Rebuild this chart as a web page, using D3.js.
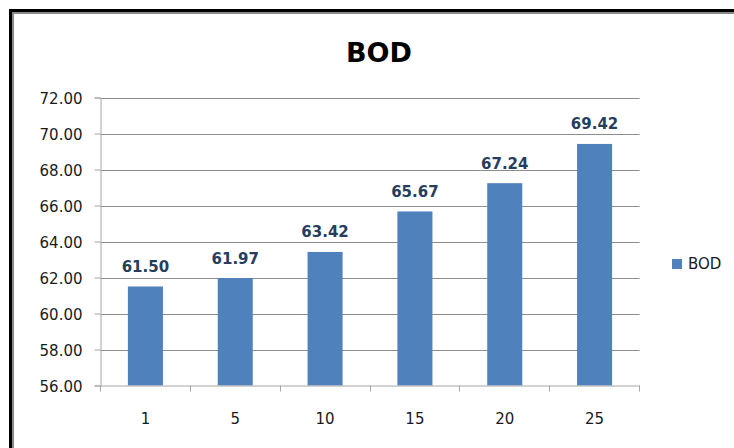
<!DOCTYPE html>
<html>
<head>
<meta charset="utf-8">
<script src="https://cdn.jsdelivr.net/npm/d3@7/dist/d3.min.js"></script>
<style>
  html, body { margin: 0; padding: 0; background: #fff; }
  svg { display: block; font-family: "DejaVu Sans", sans-serif; }
</style>
</head>
<body>
<svg id="chart" width="734" height="448"></svg>
<script>
const title = "BOD";
const seriesName = "BOD";
const categories = ["1", "5", "10", "15", "20", "25"];
const values = [61.50, 61.97, 63.42, 65.67, 67.24, 69.42];
const yTicks = [56, 58, 60, 62, 64, 66, 68, 70, 72];

const svg = d3.select("#chart");
const W = 734, H = 448;

svg.append("rect").attr("width", W).attr("height", H).attr("fill", "#fff");

// frame (black outer + gray inner)
svg.append("rect").attr("x", 10.5).attr("y", 10.5).attr("width", W + 20).attr("height", H + 20)
  .attr("fill", "none").attr("stroke", "#000").attr("stroke-width", 3);
svg.append("rect").attr("x", 13).attr("y", 13).attr("width", W + 20).attr("height", H + 20)
  .attr("fill", "none").attr("stroke", "#8a8a8a").attr("stroke-width", 2);

const x = d3.scaleBand().domain(categories).range([100.5, 639.5])
  .paddingInner(0.61).paddingOuter(0.305);
const y = d3.scaleLinear().domain([56, 72]).range([385.5, 97.5]);

// gridlines
svg.append("g").selectAll("line").data(yTicks.filter(t => t > 56)).join("line")
  .attr("x1", 100.5).attr("x2", 639.5)
  .attr("y1", d => Math.round(y(d)) + 0.5).attr("y2", d => Math.round(y(d)) + 0.5)
  .attr("stroke", "#8c8c8c").attr("stroke-width", 1);

// bars
svg.append("g").selectAll("rect").data(values).join("rect")
  .attr("x", (d, i) => x(categories[i]))
  .attr("width", x.bandwidth())
  .attr("y", d => y(d))
  .attr("height", d => y(56) - y(d))
  .attr("fill", "#4f81bd");

// y axis
const yAxis = svg.append("g").attr("transform", "translate(100.5,0)")
  .call(d3.axisLeft(y).tickValues(yTicks).tickFormat(d3.format(".2f")).tickSize(6).tickPadding(12));
yAxis.select(".domain").attr("stroke", "#a6a6a6");
yAxis.selectAll(".tick line").attr("stroke", "#a6a6a6");
yAxis.selectAll(".tick text").attr("font-size", 15).attr("fill", "#1a1a1a")
  .attr("font-family", "DejaVu Sans, sans-serif").attr("dy", "0.4em");

// x axis
const xAxis = svg.append("g").attr("transform", "translate(0,385.5)")
  .call(d3.axisBottom(x).tickSize(0).tickPadding(28));
xAxis.select(".domain").attr("stroke", "#a6a6a6");
xAxis.selectAll(".tick text").attr("font-size", 15).attr("fill", "#1a1a1a")
  .attr("font-family", "DejaVu Sans, sans-serif");
// boundary tick marks
const bounds = categories.map(c => x(c) - x.step() * x.paddingInner() / 2);
bounds.push(639.5);
xAxis.selectAll(".bt").data(bounds).join("line").attr("class", "bt")
  .attr("x1", d => Math.round(d - 0.5) + 0.5).attr("x2", d => Math.round(d - 0.5) + 0.5)
  .attr("y1", 0).attr("y2", 6).attr("stroke", "#a6a6a6");

// data labels
svg.append("g").selectAll("text").data(values).join("text")
  .attr("x", (d, i) => x(categories[i]) + x.bandwidth() / 2)
  .attr("y", d => y(d) - 14.5)
  .attr("text-anchor", "middle")
  .attr("font-size", 15).attr("font-weight", "bold").attr("fill", "#263e5e")
  .text(d => d.toFixed(2));

// title
svg.append("text").attr("x", 379).attr("y", 62).attr("text-anchor", "middle")
  .attr("font-size", 27).attr("font-weight", "bold").attr("fill", "#000").text(title);

// legend
svg.append("rect").attr("x", 672).attr("y", 259).attr("width", 10).attr("height", 10).attr("fill", "#4f81bd");
svg.append("text").attr("x", 688).attr("y", 269).attr("font-size", 15).attr("fill", "#1a1a1a").text(seriesName);
</script>
</body>
</html>
